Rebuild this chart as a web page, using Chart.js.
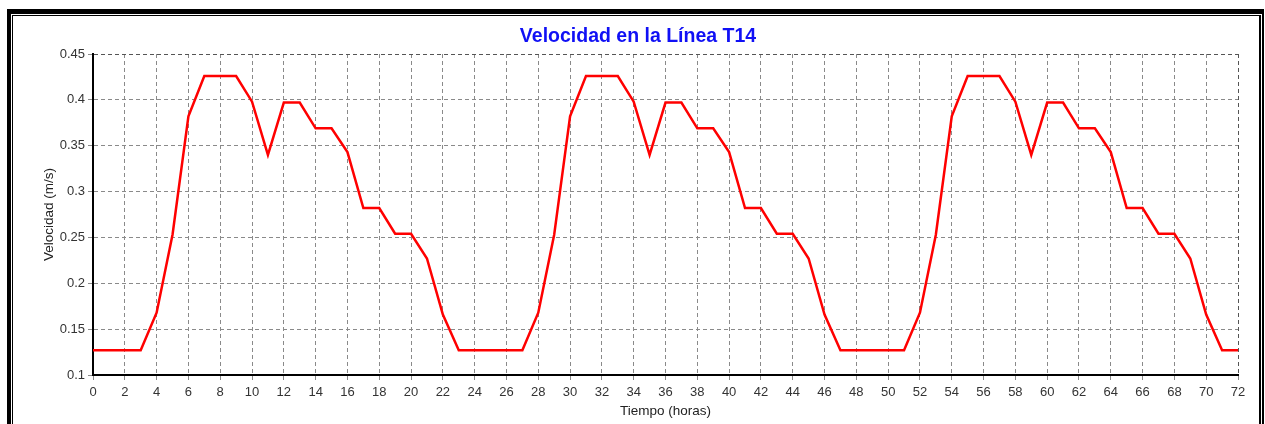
<!DOCTYPE html>
<html lang="es">
    <head>
        <meta charset="utf-8">
        <title>Velocidad en la Línea T14</title>
        <script src="https://cdn.jsdelivr.net/npm/chart.js"></script>
        <style>
            html, body { margin: 0; padding: 0; background: #ffffff; }
            .wrap { position: relative; width: 1265px; height: 424px; overflow: hidden; }
            #graph { position: absolute; left: 0; top: 0; }
            .frame {
                position: absolute; left: 7px; top: 9px; width: 1251px; height: 430px;
                border-style: solid; border-color: #000; border-width: 5px 2px 0 4px;
                pointer-events: none;
            }
            .frame-inner {
                position: absolute; left: 1px; top: 1px; right: 1px; bottom: 0;
                border-style: solid; border-color: #000; border-width: 1px 2px 0 1px;
            }
        </style>
    </head>
    <body>
        <div class="wrap">
            <canvas id="graph" width="1265" height="424"></canvas>
            <div class="frame"><div class="frame-inner"></div></div>
        </div>
        <script>
            // hours of the simulation (x axis)
            const horas = [
                0, 1, 2, 3, 4, 5, 6, 7, 8, 9, 10, 11, 12, 13, 14, 15, 16, 17, 18, 19, 20, 21, 22, 23,
                24, 25, 26, 27, 28, 29, 30, 31, 32, 33, 34, 35, 36, 37, 38, 39, 40, 41, 42, 43, 44, 45, 46, 47,
                48, 49, 50, 51, 52, 53, 54, 55, 56, 57, 58, 59, 60, 61, 62, 63, 64, 65, 66, 67, 68, 69, 70, 71,
                72
            ];
            // flow velocity in line T14, m/s
            const velocidad = [
                0.127, 0.127, 0.127, 0.127, 0.168, 0.253, 0.382, 0.426, 0.426, 0.426, 0.398, 0.340,
                0.397, 0.397, 0.369, 0.369, 0.343, 0.282, 0.282, 0.254, 0.254, 0.227, 0.166, 0.127,
                0.127, 0.127, 0.127, 0.127, 0.168, 0.253, 0.382, 0.426, 0.426, 0.426, 0.398, 0.340,
                0.397, 0.397, 0.369, 0.369, 0.343, 0.282, 0.282, 0.254, 0.254, 0.227, 0.166, 0.127,
                0.127, 0.127, 0.127, 0.127, 0.168, 0.253, 0.382, 0.426, 0.426, 0.426, 0.398, 0.340,
                0.397, 0.397, 0.369, 0.369, 0.343, 0.282, 0.282, 0.254, 0.254, 0.227, 0.166, 0.127,
                0.127
            ];
            const titulo = 'Velocidad en la Línea T14';
            const tituloX = 'Tiempo (horas)';
            const tituloY = 'Velocidad (m/s)';

            const fuente = "'Liberation Sans', Arial, sans-serif";
            const gris = '#8a8a8a';

            const ctx = document.getElementById('graph').getContext('2d');
            const graph = new Chart(ctx, {
                type: 'line',
                data: {
                    datasets: [{
                        label: tituloY,
                        data: horas.map(function(h, i) { return {x: h, y: velocidad[i]}; }),
                        borderColor: '#ff0000',
                        borderWidth: 2.5,
                        pointRadius: 0,
                        tension: 0,
                        fill: false
                    }]
                },
                options: {
                    responsive: false,
                    animation: false,
                    layout: {
                        padding: {left: 11, right: 0, top: 0, bottom: 0}
                    },
                    scales: {
                        x: {
                            type: 'linear',
                            min: 0,
                            max: 72,
                            afterFit: function(scale) { scale.height = 49; },
                            ticks: {
                                stepSize: 2,
                                color: '#333',
                                padding: 5,
                                maxRotation: 0,
                                font: {family: fuente, size: 13}
                            },
                            grid: {
                                color: function(c) { return c.tick && c.tick.value === 72 ? '#555' : gris; },
                                lineWidth: 1,
                                tickLength: 5,
                                tickColor: gris,
                                tickBorderDash: [4, 3]
                            },
                            border: {
                                display: true,
                                color: '#000',
                                width: 2,
                                dash: [4, 3]
                            },
                            title: {
                                display: true,
                                text: tituloX,
                                color: '#222',
                                padding: {top: 0, bottom: 5},
                                font: {family: fuente, size: 13.5}
                            }
                        },
                        y: {
                            min: 0.1,
                            max: 0.45,
                            afterFit: function(scale) { scale.width = 82; },
                            ticks: {
                                stepSize: 0.05,
                                color: '#333',
                                padding: 3,
                                font: {family: fuente, size: 13},
                                callback: function(v) { return String(+v.toFixed(2)); }
                            },
                            grid: {
                                color: function(c) { return c.tick && Math.abs(c.tick.value - 0.45) < 1e-6 ? '#555' : gris; },
                                lineWidth: 1,
                                tickLength: 5,
                                tickColor: gris,
                                tickBorderDash: [4, 3]
                            },
                            border: {
                                display: true,
                                color: '#000',
                                width: 2,
                                dash: [4, 3]
                            },
                            title: {
                                display: true,
                                text: tituloY,
                                color: '#222',
                                padding: {top: 30, bottom: 0},
                                font: {family: fuente, size: 13.5}
                            }
                        },
                        // empty right-hand strip so the plot ends before the frame
                        derecha: {
                            type: 'linear',
                            position: 'right',
                            display: true,
                            afterFit: function(scale) { scale.width = 27; },
                            grid: {display: false, drawTicks: false},
                            border: {display: false},
                            ticks: {display: false}
                        }
                    },
                    plugins: {
                        legend: {display: false},
                        tooltip: {enabled: false},
                        title: {
                            display: true,
                            text: titulo,
                            color: '#1010f5',
                            padding: {top: 24.5, bottom: 6.1},
                            font: {family: fuente, size: 19.5, weight: 'bold'}
                        }
                    }
                }
            });
        </script>
    </body>
</html>
